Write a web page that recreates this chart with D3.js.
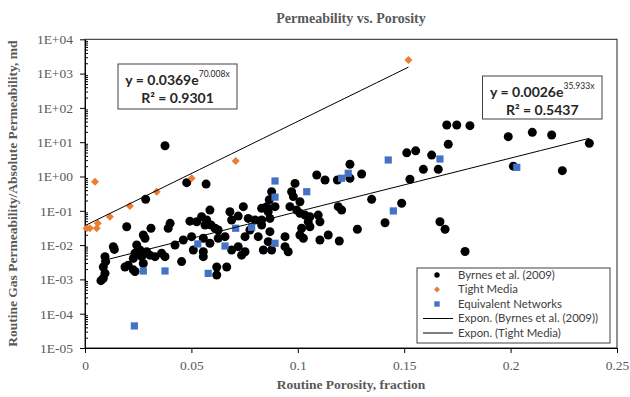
<!DOCTYPE html>
<html><head><meta charset="utf-8">
<script src="https://cdn.jsdelivr.net/npm/d3@7"></script>
<style>html,body{margin:0;padding:0;background:#fff;} svg{display:block;}</style>
</head><body><svg id="chart" width="630" height="397"></svg>
<script>
// ---- DATA ----
const xTicks = [0, 0.05, 0.1, 0.15, 0.2, 0.25];
const xTickLabels = ["0", "0.05", "0.1", "0.15", "0.2", "0.25"];
const yTicks = [1e-5, 1e-4, 1e-3, 1e-2, 1e-1, 1e0, 1e1, 1e2, 1e3, 1e4];
const yTickLabels = ["1E-05", "1E-04", "1E-03", "1E-02", "1E-01", "1E+00", "1E+01", "1E+02", "1E+03", "1E+04"];

const seriesNames = ["Byrnes et al. (2009)", "Tight Media", "Equivalent Networks",
  "Expon. (Byrnes et al. (2009))", "Expon. (Tight Media)"];

const byrnesX = [0.0376,0.0478,0.0569,0.0285,0.0877,0.0866,0.0196,0.031,0.040,0.0391,
  0.0274,0.0282,0.0493,0.0525,0.0548,0.0572,0.0587,0.0564,0.0592,0.0611,
  0.0626,0.0681,0.0689,0.072,0.0744,0.0767,0.0799,0.083,0.0861,0.083,
  0.0869,0.0462,0.0501,0.0556,0.0423,0.0509,0.0556,0.0587,0.0626,0.0658,
  0.0689,0.072,0.0752,0.0775,0.0814,0.0838,0.0861,0.0736,0.0752,0.0556,
  0.0454,0.0133,0.0138,0.0243,0.0258,0.0235,0.0266,0.029,0.0305,0.0329,
  0.036,0.0376,0.0227,0.0094,0.0097,0.0086,0.0094,0.0086,0.0075,0.0188,
  0.0203,0.0227,0.0235,0.0274,0.0619,0.0666,0.0619,0.170,0.1747,0.1707,
  0.1512,0.1554,0.1629,0.159,0.166,0.1527,0.1245,0.13,0.1245,0.1186,
  0.1128,0.1089,0.0987,0.0971,0.0854,0.0893,0.0979,0.101,0.0963,0.0995,
  0.101,0.1034,0.1057,0.1049,0.1096,0.1104,0.1057,0.1018,0.101,0.1026,
  0.094,0.0869,0.083,0.0877,0.094,0.0955,0.1104,0.1143,0.1195,0.119,
  0.1206,0.128,0.1347,0.141,0.1488,0.1668,0.1692,0.1809,0.1989,0.2102,
  0.2193,0.237,0.2013,0.2243,0.1786];
const byrnesY = [7.9,0.66,0.60,0.216,0.36,0.21,0.0344,0.031,0.043,0.031,
  0.0197,0.0158,0.050,0.048,0.067,0.054,0.105,0.0386,0.0386,0.031,
  0.0275,0.094,0.054,0.070,0.132,0.060,0.054,0.118,0.094,0.0386,
  0.060,0.0141,0.0176,0.0158,0.0101,0.0072,0.0064,0.0113,0.0158,0.0176,
  0.0072,0.009,0.0176,0.0275,0.0176,0.0072,0.0126,0.0051,0.0064,0.0046,
  0.0033,0.009,0.0075,0.0101,0.0072,0.0058,0.0046,0.0064,0.0051,0.0046,
  0.0058,0.0046,0.0041,0.0046,0.0033,0.0023,0.0015,0.00108,0.00092,0.0023,
  0.0026,0.0019,0.0017,0.0029,0.0023,0.0023,0.00134,31.7,31.7,8.7,
  4.9,5.6,4.2,1.62,1.62,0.83,2.27,1.18,0.89,0.79,
  0.79,1.11,0.63,0.36,0.132,0.132,0.26,0.184,0.132,0.105,
  0.085,0.075,0.067,0.048,0.075,0.048,0.0344,0.031,0.0197,0.0158,
  0.0176,0.0246,0.054,0.0072,0.009,0.0064,0.0141,0.0197,0.0132,0.132,
  0.105,0.0289,0.216,0.045,0.166,0.048,0.0289,30.3,14.5,19.4,
  16.2,9.3,2.0,1.48,0.0065];

const tightX = [0.0047,0.0008,0.0023,0.006,0.0055,0.0117,0.0211,0.0337,0.0501,0.0708,0.152];
const tightY = [0.70,0.031,0.031,0.043,0.031,0.067,0.138,0.36,0.89,2.83,2500];

const equivX = [0.0274,0.0376,0.0232,0.053,0.0658,0.0708,0.0783,0.0579,0.0893,0.0893,
  0.0893,0.1042,0.1206,0.1237,0.1425,0.1449,0.1668,0.2029];
const equivY = [0.00176,0.00176,0.000044,0.0108,0.0094,0.031,0.033,0.0015,0.74,0.25,
  0.0113,0.36,0.89,1.24,3.03,0.099,3.24,1.85];

// exponential trendline coefficients (from the chart labels)
const byrnesFit = {a: 0.0026, b: 35.933, r2: "0.5437"};
const tightFit = {a: 0.0369, b: 70.008, r2: "0.9301"};

// ---- DRAW ----
const svg = d3.select("#chart");
const L = 85, R = 617, T = 39.3, B = 348;
const x = d3.scaleLinear().domain([0, 0.25]).range([L, R]);
const y = d3.scaleLog().domain([1e-5, 1e4]).range([B, T]);

const serif = "'Liberation Serif', 'Times New Roman', serif";
const sans = "Lato, 'Open Sans', sans-serif";
const gray = "#595959";

svg.append("rect").attr("width", 630).attr("height", 397).attr("fill", "#fff");

// title
svg.append("text").attr("x", (L + R) / 2).attr("y", 23)
  .attr("text-anchor", "middle").attr("font-family", serif).attr("font-weight", "bold")
  .attr("font-size", 14).attr("fill", gray).text("Permeability vs. Porosity");

// plot frame
svg.append("rect").attr("x", L).attr("y", T).attr("width", R - L).attr("height", B - T)
  .attr("fill", "none").attr("stroke", "#222").attr("stroke-width", 1);

// y axis
const yAxis = svg.append("g").attr("transform", `translate(${L},0)`)
  .call(d3.axisLeft(y).tickValues(yTicks).tickFormat((d, i) => yTickLabels[i])
    .tickSizeInner(5).tickSizeOuter(0).tickPadding(7));
yAxis.selectAll("text").attr("font-family", serif).attr("font-size", 13.5).attr("fill", gray);
yAxis.selectAll("line").attr("stroke", "#000");
yAxis.select(".domain").attr("stroke", "#000");

const minors = [];
yTicks.slice(0, -1).forEach(v => { for (let k = 2; k <= 9; k++) minors.push(v * k); });
const yMinor = svg.append("g").attr("transform", `translate(${L},0)`)
  .call(d3.axisRight(y).tickValues(minors).tickFormat("").tickSizeInner(3).tickSizeOuter(0));
yMinor.select(".domain").remove();
yMinor.selectAll("line").attr("stroke", "#000");

// x axis
const xAxis = svg.append("g").attr("transform", `translate(0,${B})`)
  .call(d3.axisBottom(x).tickValues(xTicks).tickFormat((d, i) => xTickLabels[i])
    .tickSizeInner(5).tickSizeOuter(0).tickPadding(7));
xAxis.selectAll("text").attr("font-family", serif).attr("font-size", 13.5).attr("fill", gray);
xAxis.selectAll("line").attr("stroke", "#000");
xAxis.select(".domain").attr("stroke", "#000");

// axis titles
svg.append("text").attr("x", (L + R) / 2).attr("y", 389)
  .attr("text-anchor", "middle").attr("font-family", serif).attr("font-weight", "bold")
  .attr("font-size", 13.5).attr("fill", gray).text("Routine Porosity, fraction");
svg.append("text").attr("transform", `translate(17,${(T + B) / 2}) rotate(-90)`)
  .attr("text-anchor", "middle").attr("font-family", serif).attr("font-weight", "bold")
  .attr("font-size", 13.5).attr("fill", gray)
  .text("Routine Gas Permeability/Absolute Permeability, md");

const byrnes = byrnesX.map((v, i) => ({x: v, y: byrnesY[i]}));
const tight = tightX.map((v, i) => ({x: v, y: tightY[i]}));
const equiv = equivX.map((v, i) => ({x: v, y: equivY[i]}));

const plot = svg.append("g");
plot.selectAll("circle.b").data(byrnes).join("circle").attr("class", "b")
  .attr("cx", d => x(d.x)).attr("cy", d => y(d.y)).attr("r", 4.5).attr("fill", "#000");

function diamondPath(h) { return `M0,${-h}L${h},0L0,${h}L${-h},0Z`; }
plot.selectAll("path.t").data(tight).join("path").attr("class", "t")
  .attr("transform", d => `translate(${x(d.x)},${y(d.y)})`).attr("d", diamondPath(4)).attr("fill", "#ED7D31");

const sq = 7.2;
plot.selectAll("rect.e").data(equiv).join("rect").attr("class", "e")
  .attr("x", d => x(d.x) - sq / 2).attr("y", d => y(d.y) - sq / 2)
  .attr("width", sq).attr("height", sq).attr("fill", "#4472C4");

// trendlines over the data range of each series
function trend(fit, xs) {
  const [x0, x1] = d3.extent(xs);
  const pts = d3.range(0, 21).map(i => x0 + (x1 - x0) * i / 20);
  return pts.map(v => ({x: v, y: fit.a * Math.exp(fit.b * v)}));
}
const line = d3.line().x(d => x(d.x)).y(d => y(d.y));
plot.append("path").attr("d", line(trend(byrnesFit, byrnesX))).attr("fill", "none")
  .attr("stroke", "#000").attr("stroke-width", 1);
plot.append("path").attr("d", line(trend(tightFit, tightX))).attr("fill", "none")
  .attr("stroke", "#000").attr("stroke-width", 1);

// equation boxes
function eqBox(bx, by, bw, bh, fit) {
  const g = svg.append("g");
  g.append("rect").attr("x", bx).attr("y", by).attr("width", bw).attr("height", bh)
    .attr("fill", "#fff").attr("stroke", "#404040").attr("stroke-width", 1);
  const t = g.append("text").attr("x", bx + bw / 2).attr("y", by + 21)
    .attr("text-anchor", "middle").attr("font-family", sans).attr("font-weight", "bold")
    .attr("font-size", 14).attr("fill", "#262626");
  t.append("tspan").text(`y = ${fit.a.toFixed(4)}e`);
  t.append("tspan").attr("dy", -8).attr("font-size", 8.5).attr("font-weight", "normal")
    .text(`${fit.b.toFixed(3)}x`);
  g.append("text").attr("x", bx + bw / 2).attr("y", by + 39)
    .attr("text-anchor", "middle").attr("font-family", sans).attr("font-weight", "bold")
    .attr("font-size", 14).attr("fill", "#262626").text(`R² = ${fit.r2}`);
}
eqBox(118, 64, 119, 45, tightFit);
eqBox(482.5, 76, 119.5, 43, byrnesFit);

// legend
const lg = svg.append("g");
lg.append("rect").attr("x", 417).attr("y", 268).attr("width", 193).attr("height", 75)
  .attr("fill", "#fff").attr("stroke", "#404040").attr("stroke-width", 1);
const rowsY = [275, 289.5, 304, 318.5, 333];
seriesNames.forEach((n, i) => {
  lg.append("text").attr("x", 458).attr("y", rowsY[i]).attr("dy", "0.35em")
    .attr("font-family", sans).attr("font-size", 11.4).attr("fill", "#404040").text(n);
});
lg.append("circle").attr("cx", 437).attr("cy", rowsY[0]).attr("r", 2.7).attr("fill", "#000");
lg.append("path").attr("transform", `translate(437,${rowsY[1]})`)
  .attr("d", diamondPath(3)).attr("fill", "#ED7D31");
lg.append("rect").attr("x", 434.3).attr("y", rowsY[2] - 2.7).attr("width", 5.4).attr("height", 5.4).attr("fill", "#4472C4");
[3, 4].forEach(i => lg.append("line").attr("x1", 423).attr("x2", 453)
  .attr("y1", rowsY[i]).attr("y2", rowsY[i]).attr("stroke", "#000").attr("stroke-width", 1));
</script>
</body></html>
